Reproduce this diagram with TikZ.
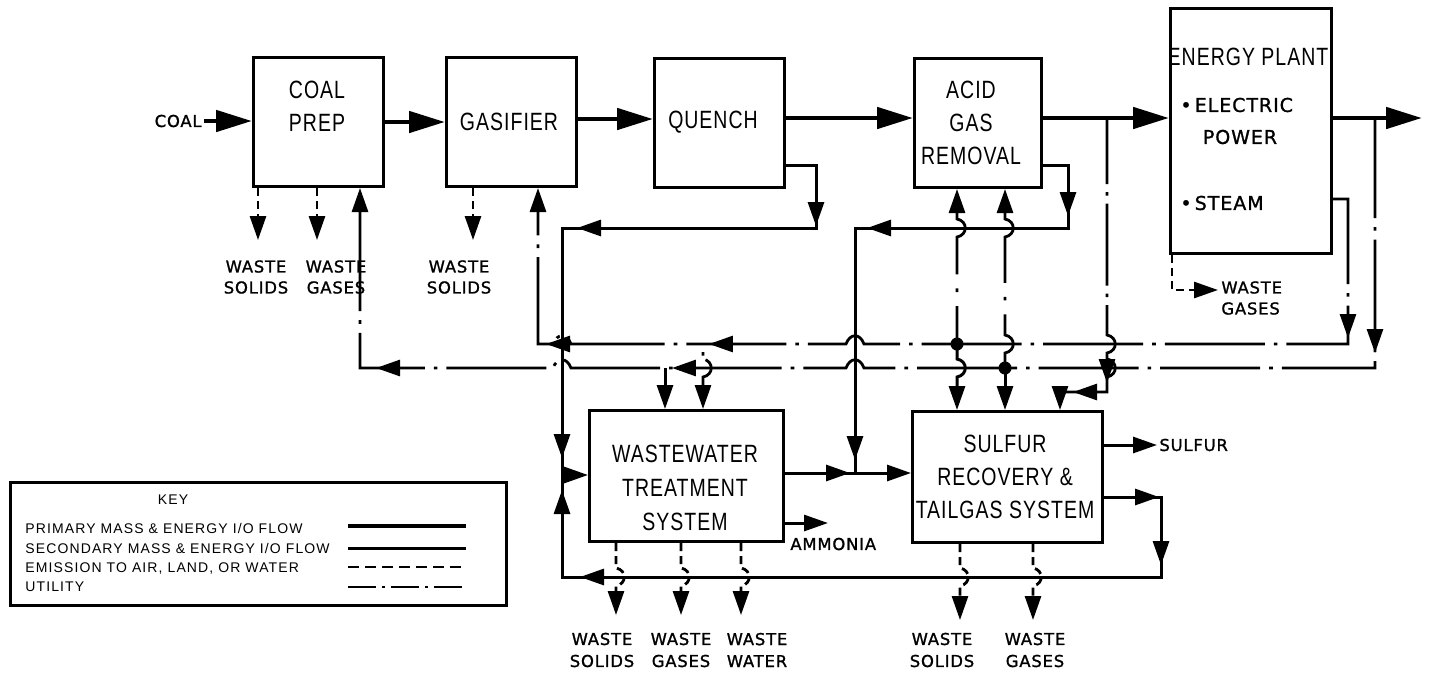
\documentclass[tikz,border=0pt]{standalone}
\usepackage{fontspec}
\setmainfont{Liberation Sans}
\newfontfamily\boxfont[FakeStretch=0.78,LetterSpace=4]{Liberation Sans}
\newfontfamily\lblfont[LetterSpace=5,FakeBold=1.2]{DejaVu Sans}
\newfontfamily\keyfont[LetterSpace=8]{Liberation Sans}
\usetikzlibrary{arrows.meta,decorations.markings}
\tikzset{
  bigtip/.tip={Triangle[length=18pt,width=10.5pt]},
  stip/.tip={Triangle[length=12pt,width=8pt]},
  bx/.style={draw,line width=1.5pt,inner sep=0pt,anchor=north west},
  prim/.style={line width=2.4pt},
  sec/.style={line width=1.5pt},
  emis/.style={line width=1.4pt,dash pattern=on 4pt off 2.5pt},
  util/.style={line width=1.4pt,dash pattern=on 50pt off 4.5pt on 1.8pt off 4.5pt},
  keyutil/.style={line width=1.3pt,dash pattern=on 14pt off 3pt on 1.5pt off 3pt},
  keydash/.style={line width=1.3pt,dash pattern=on 5.5pt off 3pt},
  ma/.style={postaction={decorate,decoration={markings,mark=at position #1 with {\arrow{stip}}}}},
  lbl/.style={font=\lblfont\fontsize{8.2}{10.5}\selectfont,align=center,inner sep=0pt},
  lblb/.style={font=\lblfont\fontsize{8.2}{11}\selectfont,align=center,inner sep=0pt},
  eplbl/.style={font=\lblfont\fontsize{9.5}{12}\selectfont,inner sep=0pt},
  btxt/.style={font=\boxfont\fontsize{12.5}{16.5}\selectfont,align=center,inner sep=0pt},
  ktxt/.style={font=\keyfont\fontsize{7}{8}\selectfont,inner sep=0pt,anchor=west},
  jdot/.style={fill,circle,inner sep=0pt,minimum size=6.5pt},
}
\begin{document}
\begin{tikzpicture}[x=0.5pt,y=-0.5pt]
\fill[white] (0,0) rectangle (1429,676);
\useasboundingbox (0,0) rectangle (1429,676);

% ---------------- boxes ----------------
\node[bx,minimum width=65pt,minimum height=64.5pt] (cp) at (252,56) {};
\node[bx,minimum width=65pt,minimum height=64.5pt] (gas) at (445,56) {};
\node[bx,minimum width=65pt,minimum height=64.5pt] (qu) at (653,57) {};
\node[bx,minimum width=63.5pt,minimum height=64.5pt] (agr) at (913,57) {};
\node[bx,minimum width=80.5pt,minimum height=122.5pt] (ep) at (1169,7) {};
\node[bx,minimum width=97pt,minimum height=65.5pt] (ww) at (588,409) {};
\node[bx,minimum width=95pt,minimum height=65.5pt] (sr) at (911,410) {};
\node[bx,line width=1.3pt,minimum width=248pt,minimum height=61.5pt] (key) at (9,481) {};

% ---------------- box texts ----------------
\node[btxt] (cpt) at (317,106) {COAL\\PREP};
\node[btxt] (gast) at (509,122) {GASIFIER};
\node[btxt] (qut) at (713,122) {QUENCH};
\node[btxt] (agrt) at (971,123) {ACID\\GAS\\REMOVAL};
\node[btxt] (ept) at (1248,57) {ENERGY PLANT};
\node[eplbl,anchor=west] (epel) at (1180,105) {•\,ELECTRIC};
\node[eplbl] (eppw) at (1240,137) {POWER};
\node[eplbl,anchor=west] (epst) at (1180,203) {•\,STEAM};
\node[btxt,font=\boxfont\fontsize{12.5}{17}\selectfont] (wwt) at (685,488) {WASTEWATER\\TREATMENT\\SYSTEM};
\node[btxt] (srt) at (1005,477) {SULFUR\\RECOVERY \&\\TAILGAS SYSTEM};

% ---------------- labels ----------------
\node[lbl,anchor=east] (coal) at (202,121) {COAL};
\node[lbl] (cpws) at (256,277) {WASTE\\SOLIDS};
\node[lbl] (cpwg) at (336,277) {WASTE\\GASES};
\node[lbl] (gws) at (459,277) {WASTE\\SOLIDS};
\node[lbl,align=left,anchor=west] (epg) at (1221,298) {WASTE\\GASES};
\node[lbl,anchor=west] (amm) at (790,544) {AMMONIA};
\node[lbl,anchor=west] (sul) at (1159,445) {SULFUR};
\node[lblb] (wws) at (602,650) {WASTE\\SOLIDS};
\node[lblb] (wwg) at (681,650) {WASTE\\GASES};
\node[lblb] (www) at (757,650) {WASTE\\WATER};
\node[lblb] (srs) at (942,650) {WASTE\\SOLIDS};
\node[lblb] (srg) at (1035,650) {WASTE\\GASES};

% ---------------- key ----------------
\node[ktxt,anchor=center] (keyt) at (173,500) {KEY};
\node[ktxt] (k1) at (25,528) {PRIMARY MASS \& ENERGY I/O FLOW};
\node[ktxt] (k2) at (25,548) {SECONDARY MASS \& ENERGY I/O FLOW};
\node[ktxt] (k3) at (25,568) {EMISSION TO AIR, LAND, OR WATER};
\node[ktxt] (k4) at (25,587) {UTILITY};
\coordinate (k1a) at (348,526); \coordinate (k1b) at (466,526);
\coordinate (k2a) at (348,548); \coordinate (k2b) at (466,548);
\coordinate (k3a) at (348,567); \coordinate (k3b) at (466,567);
\coordinate (k4a) at (348,587); \coordinate (k4b) at (466,587);
\draw[prim] (k1a) -- (k1b);
\draw[sec] (k2a) -- (k2b);
\draw[keydash] (k3a) -- (k3b);
\draw[keyutil] (k4a) -- (k4b);

% ---------------- primary flow ----------------
\coordinate (m2) at (600,119);
\coordinate (m3) at (850,118);
\coordinate (out) at (1422,118);
\draw[prim,-{bigtip},shorten <=1pt] (coal.east) -- (cp.west |- coal.east);
\draw[prim,-{bigtip}] (cp.east) -- (gas.west);
\draw[prim,-{bigtip}] (gas.east |- m2) -- (qu.west |- m2);
\draw[prim,-{bigtip}] (qu.east |- m3) -- (agr.west |- m3);
\draw[prim,-{bigtip}] (agr.east |- m3) -- (ep.west |- m3);
\draw[prim,-{bigtip}] (ep.east |- out) -- (out);

% ---------------- emissions ----------------
\coordinate (cw1) at (258,240);
\coordinate (cw2) at (317,240);
\coordinate (gw1) at (473,240);
\draw[emis,-{stip}] (cp.south -| cw1) -- (cw1);
\draw[emis,-{stip}] (cp.south -| cw2) -- (cw2);
\draw[emis,-{stip}] (gas.south -| gw1) -- (gw1);
\coordinate (e1) at (1172,290);
\coordinate (e2) at (1218,290);
\draw[emis,-{stip}] (ep.south -| e1) -- (e1) -- (e2);
\coordinate (w1) at (616,615);
\coordinate (w2) at (681,615);
\coordinate (w3) at (741,615);
\coordinate (s1) at (960,620);
\coordinate (s2) at (1033,620);
\draw[emis,-{stip}] (ww.south -| w1) -- (616,568) .. controls (627,570) and (627,584) .. (616,586) -- (w1);
\draw[emis,-{stip}] (ww.south -| w2) -- (681,568) .. controls (692,570) and (692,584) .. (681,586) -- (w2);
\draw[emis,-{stip}] (ww.south -| w3) -- (741,568) .. controls (752,570) and (752,584) .. (741,586) -- (w3);
\draw[emis,-{stip}] (sr.south -| s1) -- (960,568) .. controls (971,570) and (971,584) .. (960,586) -- (s1);
\draw[emis,-{stip}] (sr.south -| s2) -- (1033,568) .. controls (1044,570) and (1044,584) .. (1033,586) -- (s2);

% ---------------- secondary flows ----------------
\coordinate (q1) at (816,165);
\coordinate (q2) at (816,228);
\coordinate (q3) at (562,228);
\coordinate (jn) at (562,475);
\draw[sec,ma=45.5pt,ma=166pt,ma=-8.5pt] (qu.east |- q1) -- (q1) -- (q2) -- (q3) -- (jn);
\draw[sec,-{stip}] (jn) -- (ww.west |- jn);
\coordinate (b1) at (1161,497);
\coordinate (b2) at (1161,577);
\coordinate (b3) at (562,577);
\draw[sec,ma=27.5pt,ma=62.5pt,ma=359pt,ma=-7.5pt] (sr.east |- b1) -- (b1) -- (b2) -- (b3) -- (jn);
\coordinate (j2) at (855,473);
\draw[sec,ma=32.5pt,-{stip}] (ww.east |- j2) -- (sr.west |- j2);
\coordinate (a1) at (1068,165);
\coordinate (a2) at (1068,228);
\coordinate (a3) at (855,228);
\draw[sec,ma=38pt,ma=144.5pt,ma=-6.5pt] (agr.east |- a1) -- (a1) -- (a2) -- (a3) -- (j2);
\coordinate (am) at (828,523);
\draw[sec,-{stip}] (ww.east |- am) -- (am);
\coordinate (su) at (1157,445);
\draw[sec,-{stip}] (sr.east |- su) -- (su);

% ---------------- utilities ----------------
% steam -> upper utility header -> gasifier
\coordinate (u1) at (1348,199);
\coordinate (u2) at (1348,344);
\coordinate (u3) at (538,344);
\draw[util,ma=77pt,ma=403.5pt,ma=-82pt,-{stip}] (ep.east |- u1) -- (u1) -- (u2)
  -- (864,344) .. controls (860,333) and (850,333) .. (846,344)
  -- (571,344) .. controls (567,333) and (557,333) .. (553,344)
  -- (u3) -- (gas.south -| u3);
% power -> lower utility header -> coal prep
\coordinate (l1) at (1375,118);
\coordinate (l2) at (1375,368);
\coordinate (l3) at (360,368);
\draw[util,ma=117.5pt,ma=480.5pt,ma=-98pt,-{stip}] (l1) -- (l2)
  -- (864,368) .. controls (860,357) and (850,357) .. (846,368)
  -- (571,368) .. controls (567,357) and (557,357) .. (553,368)
  -- (l3) -- (cp.south -| l3);
% branches to acid gas removal and sulfur recovery
\coordinate (v1) at (957,344);
\coordinate (v2) at (1005,368);
\node[jdot] (d1) at (v1) {};
\node[jdot] (d2) at (v2) {};
\draw[line width=1.4pt,dash pattern=on 19pt off 7pt on 1.8pt off 7pt on 200pt off 1pt,-{stip}]
  (v1) -- (957,237) .. controls (968,235) and (968,221) .. (957,219) -- (agr.south -| v1);
\draw[sec,-{stip}] (v1) -- (957,359) .. controls (968,361) and (968,375) .. (957,377) -- (sr.north -| v1);
\draw[line width=1.4pt,dash pattern=on 31pt off 7pt on 1.8pt off 7pt on 200pt off 1pt,-{stip}]
  (v2) -- (1005,353) .. controls (1016,351) and (1016,337) .. (1005,335)
  -- (1005,237) .. controls (1016,235) and (1016,221) .. (1005,219) -- (agr.south -| v2);
\draw[sec,-{stip}] (v2) -- (sr.north -| v2);
% from main gas line to sulfur recovery
\coordinate (r1) at (1107,118);
\coordinate (r2) at (1107,392);
\coordinate (r3) at (1060,392);
\draw[line width=1.4pt,dash pattern=on 33pt off 4pt on 1.8pt off 4pt on 41pt off 4pt on 1.8pt off 4pt on 300pt off 1pt,
  ma=-37pt,ma=-15.5pt,-{stip}]
  (r1) -- (1107,335) .. controls (1118,337) and (1118,351) .. (1107,353)
  -- (1107,359) .. controls (1118,361) and (1118,375) .. (1107,377)
  -- (r2) -- (r3) -- (sr.north -| r3);
% branches to wastewater treatment
\coordinate (c703) at (703,344);
\coordinate (c665) at (665,368);
\draw[line width=1.4pt,dash pattern=on 0pt off 4pt on 1.8pt off 3pt on 100pt off 1pt,-{stip}]
  (c703) -- (703,359) .. controls (714,361) and (714,375) .. (703,377) -- (ww.north -| c703);
\draw[sec,-{stip}] (c665) -- (ww.north -| c665);
\end{tikzpicture}
\end{document}
